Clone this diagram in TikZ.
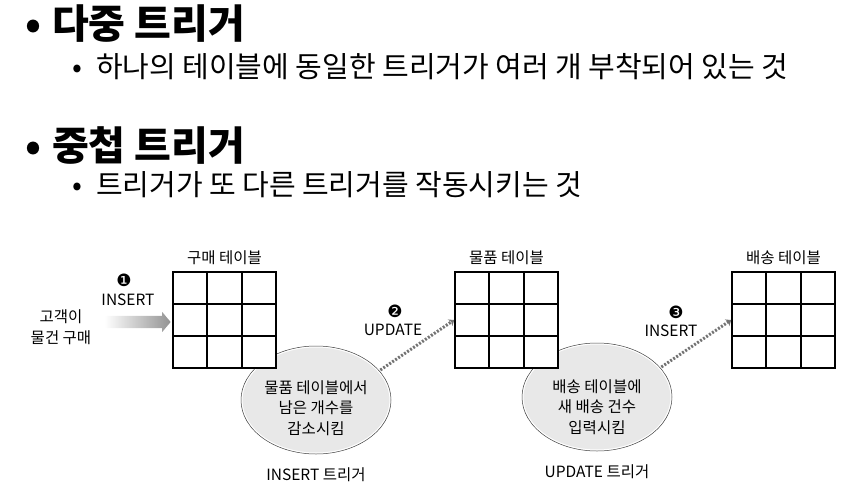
\documentclass[tikz,border=0pt]{standalone}
\usepackage{fontspec}
\setmainfont{Noto Sans CJK KR}
\newfontfamily\dingfont{DejaVu Sans}
\usetikzlibrary{positioning,arrows.meta,shapes.geometric,shapes.arrows,calc}

\begin{document}
\begin{tikzpicture}[
  x=1pt,y=-1pt,
  title/.style={anchor=base west,inner sep=0,font=\fontsize{40}{44}\selectfont\bfseries},
  subitem/.style={anchor=base west,inner sep=0,font=\fontsize{29}{32}\selectfont},
  lbl/.style={inner sep=0,font=\fontsize{15.5}{20.5}\selectfont,align=center},
  num/.style={inner sep=0,font=\dingfont\fontsize{17}{17}\selectfont},
  tbl/.style={draw,fill=white,line width=1.6pt,minimum width=103pt,minimum height=96pt,inner sep=0},
  trig/.style={ellipse,minimum width=150pt,minimum height=108pt,fill=gray!18,draw=white,line width=3pt,postaction={draw=black!75,line width=0.5pt}},
  fatarr/.style={single arrow,minimum height=66pt,text height=6pt,text depth=6pt,inner sep=0,single arrow head extend=4pt,single arrow tip angle=100,left color=white,right color=gray!85},
  dotarr/.style={draw=gray!90!black,line width=3pt,dash pattern=on 2pt off 1.6pt,-{Stealth[length=5pt,width=8pt]}},
  gridline/.style={line width=1.6pt}
]
\useasboundingbox (0,0) rectangle (860,493);

% headings
\node[title] (t1) at (25,38) {•\hspace{11pt}다중 트리거};
\node[subitem] (s1) at (72,77) {•\hspace{14pt}하나의 테이블에 동일한 트리거가 여러 개 부착되어 있는 것};
\node[title] (t2) at (25,160) {•\hspace{11pt}중첩 트리거};
\node[subitem] (s2) at (72,195) {•\hspace{14pt}트리거가 또 다른 트리거를 작동시키는 것};

% triggers
\node[trig] (trig1) at (316,400) {};
\node[trig] (trig2) at (597,397) {};
\node[lbl] (trig1txt) at ([yshift=-8pt]trig1.center) {물품 테이블에서\\남은 개수를\\감소시킴};
\node[lbl] (trig2txt) at ([yshift=-10pt]trig2.center) {배송 테이블에\\새 배송 건수\\입력시킴};
\node[lbl,below=12pt of trig1] (trig1lbl) {INSERT 트리거};
\node[lbl,below=12pt of trig2] (trig2lbl) {UPDATE 트리거};

% tables
\node[tbl] (buy) at (224.5,320) {};
\node[tbl] (item) at (506.5,320) {};
\node[tbl] (ship) at (783.5,320) {};
\foreach \t in {buy,item,ship}
  \foreach \f in {1/3,2/3}{
    \draw[gridline] ($(\t.north west)!\f!(\t.north east)$) -- ($(\t.south west)!\f!(\t.south east)$);
    \draw[gridline] ($(\t.north west)!\f!(\t.south west)$) -- ($(\t.north east)!\f!(\t.south east)$);
  }
\node[lbl,above=6pt of buy] (buylbl) {구매 테이블};
\node[lbl,above=6pt of item] (itemlbl) {물품 테이블};
\node[lbl,above=6pt of ship] (shiplbl) {배송 테이블};

% step 1
\node[lbl] (cust) at (61,327) {고객이\\물건 구매};
\node[fatarr] (buyarr) at (135,322) {};
\node[num] (n1) at (124,280) {❶};
\node[lbl] (ins1) at (128,300) {INSERT};

% steps 2, 3
\draw[dotarr] (trig1.25) -- (item.west);
\node[num] (n2) at (395,311) {❷};
\node[lbl] (upd) at (393,330) {UPDATE};
\draw[dotarr] (trig2.25) -- (ship.west);
\node[num] (n3) at (676,312) {❸};
\node[lbl] (ins2) at (671,331) {INSERT};
\end{tikzpicture}
\end{document}
